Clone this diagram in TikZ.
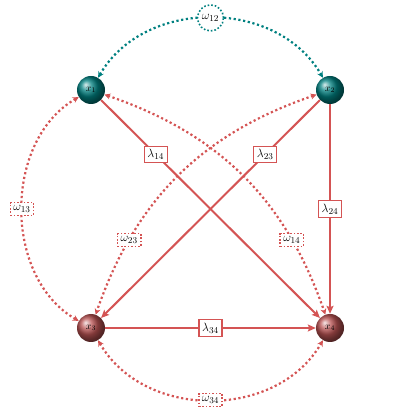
\documentclass[tikz,border=0pt]{standalone}
\usetikzlibrary{arrows.meta,shapes.geometric}
\definecolor{cteal}{RGB}{0,128,128}
\definecolor{cred}{RGB}{212,84,84}
\definecolor{credball}{RGB}{185,82,82}
\begin{document}
\begin{tikzpicture}[x=1pt,y=1pt,
  tball/.style={circle, minimum size=28pt, inner sep=0pt, ball color=cteal, font=\normalsize, text=black},
  rball/.style={circle, minimum size=28pt, inner sep=0pt, ball color=credball, font=\normalsize, text=black},
  lam/.style={rectangle, draw=cred, line width=1.3pt, solid, fill=white, inner sep=3.2pt, font=\fontsize{13}{15}\selectfont},
  omr/.style={rectangle, draw=cred, line width=1.6pt, dash pattern=on 1.6pt off 1.8pt, fill=white, inner sep=3pt, font=\fontsize{13}{15}\selectfont},
  omc/.style={circle, draw=cteal, line width=1.6pt, dash pattern=on 1.6pt off 2pt, fill=white, inner sep=0.5pt, minimum size=26pt, font=\fontsize{13}{15}\selectfont},
  solidarr/.style={draw=cred, line width=2pt, -{Stealth[length=8pt,width=7pt,inset=1.5pt]}},
  reddot/.style={draw=cred, line width=2.2pt, dash pattern=on 2.2pt off 2.6pt, {Stealth[length=6pt,width=6pt]}-{Stealth[length=6pt,width=6pt]}},
  tealdot/.style={draw=cteal, line width=2.2pt, dash pattern=on 2.2pt off 2.6pt, {Stealth[length=6pt,width=6pt]}-{Stealth[length=6pt,width=6pt]}}
]
\useasboundingbox (0,0) rectangle (420,420);
\node[tball] (x1) at (91,330) {$x_1$};
\node[tball] (x2) at (330,330) {$x_2$};
\node[rball] (x3) at (91,92) {$x_3$};
\node[rball] (x4) at (330,92) {$x_4$};

% covariances
\draw[tealdot] (x1) to[out=60,in=120,looseness=1.05] node[omc] (w12) {$\omega_{12}$} (x2);
\draw[reddot] (x3) to[out=-60,in=-120,looseness=1.05] node[omr] (w34) {$\omega_{34}$} (x4);
\draw[reddot] (x1) to[out=210,in=150,looseness=1.0] node[omr] (w13) {$\omega_{13}$} (x3);
\draw[reddot] (x2) to[bend right=26] node[omr,pos=0.76] (w23) {$\omega_{23}$} (x3);
\draw[reddot] (x1) to[bend left=26] node[omr,pos=0.76] (w14) {$\omega_{14}$} (x4);

% loadings
\draw[solidarr] (x1) -- node[lam,pos=0.25] (l14) {$\lambda_{14}$} (x4);
\draw[solidarr] (x2) -- node[lam,pos=0.25] (l23) {$\lambda_{23}$} (x3);
\draw[solidarr] (x2) -- node[lam,pos=0.5] (l24) {$\lambda_{24}$} (x4);
\draw[solidarr] (x3) -- node[lam,pos=0.5] (l34) {$\lambda_{34}$} (x4);
\end{tikzpicture}
\end{document}
